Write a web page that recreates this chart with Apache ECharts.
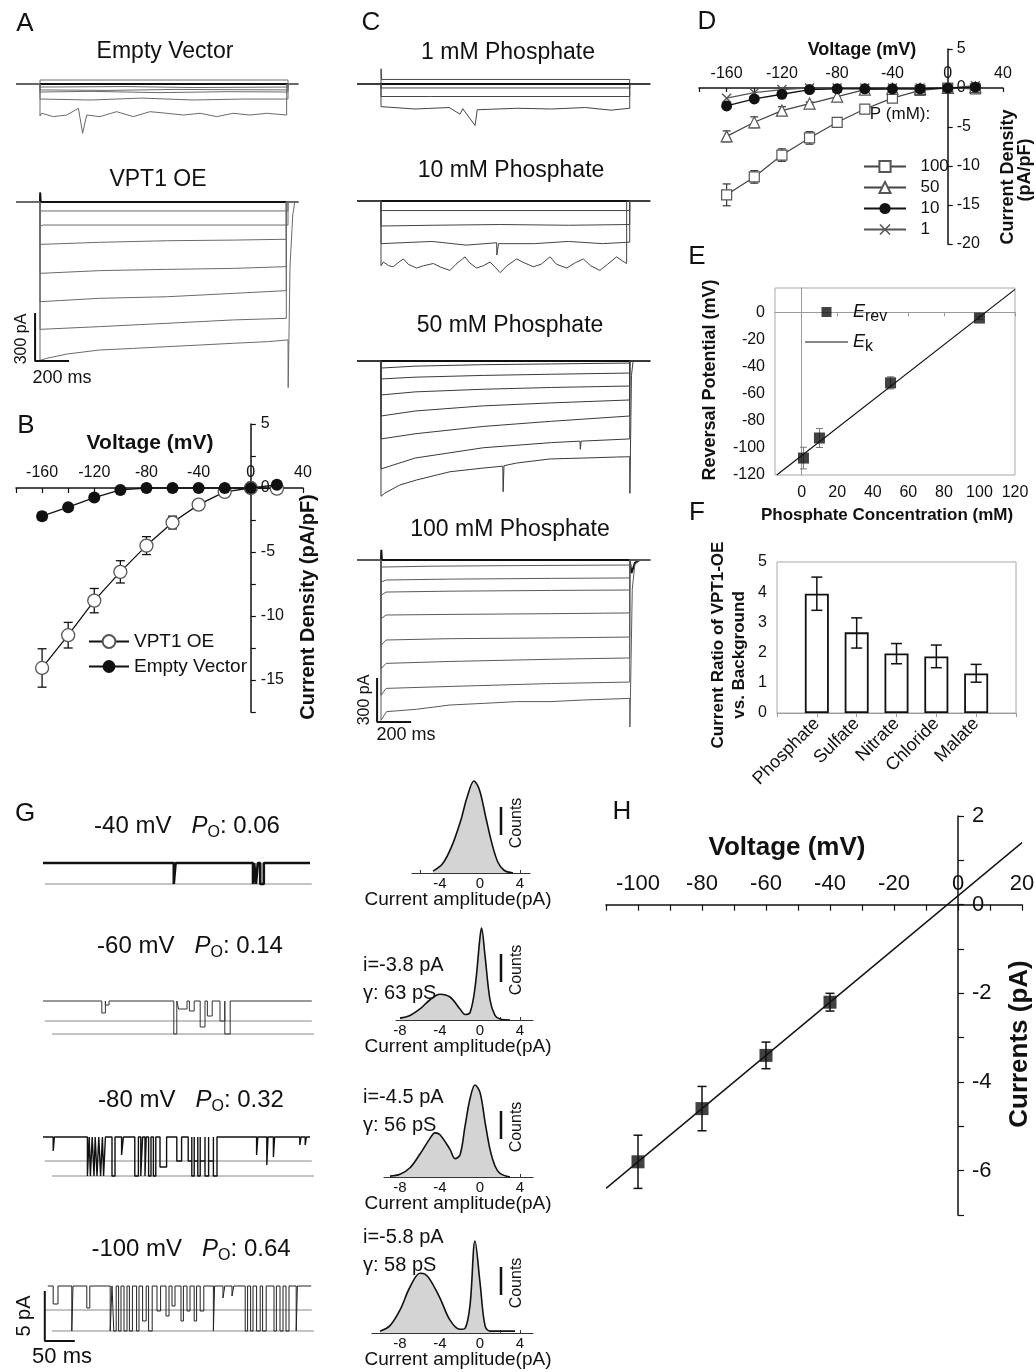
<!DOCTYPE html>
<html>
<head>
<meta charset="utf-8">
<title>VPT1 phosphate currents</title>
<script src="https://cdn.jsdelivr.net/npm/echarts@6/dist/echarts.min.js"></script>
<style>
  body { margin: 0; background: #fff; }
  #main { width: 1036px; height: 1372px; }
</style>
</head>
<body>
<div id="main"></div>
<script>
const FONT = "'Liberation Sans', Arial, Helvetica, sans-serif";

// ---------- A: whole-cell traces, [time ms, current pA] during the pulse ----------
const emptyVectorTraces = [
  [[0, 25], [1460, 25]],
  [[0, 0], [1460, 0]],
  [[0, -19], [500, -16], [900, -22], [1460, -19]],
  [[0, -37], [400, -40], [800, -34], [1460, -37]],
  [[0, -50], [300, -46], [700, -54], [1100, -48], [1460, -50]],
  [[0, -94], [300, -100], [600, -88], [900, -100], [1200, -94], [1460, -94]],
  [[0, -200], [10, -183], [78, -204], [157, -194], [226, -152], [251, -308], [275, -194], [353, -204], [451, -173], [549, -204],
   [648, -173], [746, -183], [844, -194], [942, -183], [1040, -204], [1138, -183], [1236, -194], [1335, -183], [1452, -194]]
];
const vpt1Traces = [
  [[0, 0], [1, 60], [4, 0], [1460, 0]],
  [[0, -56], [1460, -56]],
  [[0, -150], [20, -144], [1460, -144]],
  [[0, -265], [350, -252], [750, -242], [1140, -238], [1450, -233]],
  [[0, -446], [350, -429], [750, -421], [1140, -415], [1450, -404]],
  [[0, -623], [350, -602], [750, -592], [1140, -571], [1450, -554]],
  [[0, -796], [350, -779], [750, -758], [1140, -737], [1450, -727]],
  [[0, -990], [39, -977], [160, -950], [350, -925], [550, -915], [750, -904], [940, -894], [1140, -883], [1340, -873],
   [1460, -862], [1461, -1160], [1472, -400], [1488, -80], [1500, 0]]
];
const aScaleBar = [[-29, -694], [-29, -994], [171, -994]];

// ---------- B: I-V, voltage mV vs current density pA/pF ----------
const ivVoltage = [-160, -140, -120, -100, -80, -60, -40, -20, 0, 20];
const bVpt1 = [-14.06, -11.5, -8.8, -6.55, -4.5, -2.7, -1.3, -0.3, 0, -0.05];
const bVpt1Err = [1.5, 1.0, 0.95, 0.87, 0.7, 0.5, 0.2, 0, 0, 0];
const bEmpty = [-2.2, -1.5, -0.75, -0.15, 0, 0, 0, 0, 0, 0.25];
const bEmptyErr = [0.3, 0.2, 0.15, 0, 0, 0, 0, 0, 0, 0];

// ---------- C: traces at four phosphate concentrations ----------
const c1Traces = [
  [[0, 120], [3, 31], [1460, 31]],
  [[0, 0], [1460, 0]],
  [[0, -27], [1460, -27]],
  [[0, -85], [275, -85], [280, -98], [290, -85], [1460, -85]],
  [[0, -154], [200, -170], [400, -160], [464, -205], [480, -168], [552, -282], [565, -175], [800, -165], [1000, -170],
   [1200, -160], [1350, -178], [1460, -165]]
];
const c2Traces = [
  [[0, 0], [1460, 0]],
  [[0, -65], [1460, -65]],
  [[0, -170], [300, -165], [700, -160], [1100, -165], [1460, -160]],
  [[0, -290], [300, -275], [500, -300], [679, -284], [680, -367], [690, -290], [900, -290], [1100, -275], [1300, -290], [1460, -280]],
  [[0, -440], [14, -415], [45, -440], [72, -447], [100, -420], [131, -394], [160, -430], [209, -456], [250, -440], [307, -425],
   [350, -450], [405, -472], [440, -430], [493, -380], [520, -420], [561, -456], [600, -440], [640, -415], [670, -450], [699, -487],
   [740, -440], [796, -394], [840, -420], [894, -447], [940, -430], [992, -380], [1030, -430], [1090, -456], [1140, -420],
   [1188, -394], [1230, -440], [1285, -472], [1330, -430], [1383, -380], [1420, -410], [1442, -425]]
];
const c3Traces = [
  [[0, 0], [1460, 0]],
  [[0, -48], [200, -35], [600, -25], [1000, -20], [1460, -14]],
  [[0, -122], [200, -110], [600, -98], [1000, -90], [1460, -82]],
  [[0, -231], [200, -210], [600, -192], [1000, -180], [1460, -170]],
  [[0, -374], [200, -340], [600, -305], [1000, -285], [1460, -265]],
  [[0, -530], [200, -495], [600, -445], [1000, -410], [1460, -374]],
  [[0, -734], [200, -660], [600, -590], [1000, -555], [1168, -545], [1170, -600], [1175, -545], [1460, -530]],
  [[0, -920], [23, -898], [111, -843], [209, -809], [405, -753], [600, -728], [715, -715], [717, -889], [722, -712], [796, -694],
   [992, -666], [1188, -660], [1383, -653], [1460, -651], [1461, -900], [1470, -100], [1480, 0]]
];
const c4Traces = [
  [[0, 0], [2, 70], [5, 0], [1460, 0], [1470, -90], [1490, -20], [1520, 0]],
  [[0, -48], [300, -42], [800, -38], [1460, -34]],
  [[0, -150], [30, -136], [400, -130], [1000, -125], [1460, -122]],
  [[0, -240], [30, -218], [400, -212], [1000, -207], [1460, -204]],
  [[0, -400], [30, -374], [400, -370], [1000, -365], [1460, -360]],
  [[0, -580], [30, -544], [400, -535], [1000, -530], [1460, -524]],
  [[0, -740], [30, -703], [400, -690], [1000, -675], [1460, -666]],
  [[0, -920], [30, -873], [400, -860], [1000, -840], [1460, -830]],
  [[0, -1090], [33, -1031], [111, -1024], [209, -1015], [405, -986], [600, -975], [796, -963], [992, -963], [1188, -952],
   [1460, -941], [1461, -1136], [1475, -200], [1490, -30], [1520, 0]]
];
const cScaleBar = [[-23, -802], [-23, -1102], [177, -1102]];

// ---------- D: I-V at four phosphate concentrations ----------
const dP100 = [-13.7, -11.4, -8.6, -6.4, -4.4, -2.7, -1.3, -0.3, 0, -0.1];
const dP100Err = [1.4, 0.8, 0.8, 0.8, 0.5, 0.2, 0, 0, 0, 0];
const dP50 = [-6.2, -4.4, -2.9, -2.0, -1.1, -0.2, -0.1, -0.1, 0, 0.1];
const dP50Err = [0.7, 0.7, 0.5, 0.2, 0, 0, 0, 0, 0, 0];
const dP10 = [-2.3, -1.4, -0.8, -0.2, -0.1, -0.1, -0.1, -0.1, 0, 0.1];
const dP1 = [-1.3, -0.6, -0.2, 0, 0, 0, 0, 0, 0, 0.3];

// ---------- E: reversal potential vs phosphate ----------
const eConc = [1, 10, 50, 100];
const eErev = [-107.5, -92.7, -52, -4.2];
const eErevErr = [8, 7, 4.5, 1];
const eEkLine = [[-14, -120], [120, 17]];

// ---------- F: current ratio by anion ----------
const fAnions = ['Phosphate', 'Sulfate', 'Nitrate', 'Chloride', 'Malate'];
const fRatio = [3.95, 2.67, 1.97, 1.87, 1.31];
const fLow = [3.4, 2.15, 1.63, 1.5, 1.02];
const fHigh = [4.5, 3.15, 2.3, 2.25, 1.61];

// ---------- G: single channel records, events [start ms, end ms, level pA] ----------
const g40Events = [[218, 221, -2.1], [350, 352, -2.1], [355, 358, -2.1], [362, 368, -2.1]];
const g60Events = [[98, 104, -1.2], [104, 110, -0.4], [218, 223, -3.3], [226, 240, -0.8], [244, 252, -1.0], [262, 270, -2.6],
  [274, 282, -1.5], [295, 303, -2.0], [303, 312, -3.3]];
const g80Events = [[17, 19, -1.4], [74, 77, -3.9], [79, 82, -3.9], [85, 87, -3.9], [90, 93, -3.9], [96, 99, -3.9], [101, 104, -3.9],
  [115, 120, -3.9], [131, 134, -1.8], [153, 159, -3.9], [163, 166, -3.9], [170, 172, -3.9], [176, 180, -3.9], [184, 188, -3.9],
  [195, 206, -3.0], [223, 231, -2.4], [242, 248, -2.4], [248, 252, -3.9], [252, 258, -2.4], [258, 262, -3.9], [262, 270, -2.4],
  [270, 276, -3.9], [276, 284, -2.4], [284, 290, -3.9], [356, 358, -1.8], [373, 375, -2.8], [384, 386, -2.0], [428, 430, -0.8],
  [437, 439, -0.8]];
const g100Events = [[17, 25, -1.8], [48, 50, -4.5], [73, 78, -2.2], [112, 115, -4.5], [118, 122, -4.5], [126, 130, -4.5],
  [135, 140, -4.5], [144, 149, -4.5], [156, 160, -4.5], [166, 172, -3.5], [176, 182, -4.5], [190, 196, -2.5], [205, 210, -3.0],
  [215, 220, -2.0], [230, 234, -3.5], [240, 245, -2.5], [252, 256, -3.5], [262, 268, -2.5], [284, 286, -4.5], [300, 303, -1.2],
  [315, 318, -1.0], [337, 341, -4.5], [346, 350, -4.5], [356, 362, -4.5], [366, 372, -4.5], [385, 389, -4.5], [395, 400, -4.5],
  [405, 410, -4.5], [422, 424, -4.5]];
const gOpenLevels = [[-2.1], [-2.0, -3.3], [-2.4, -3.9], [-2.4, -4.5]];
const gScaleBar = [[3, -0.5], [3, -5.5], [53, -5.5]];

// amplitude histograms: fitted curve, [current pA] and [relative counts]
const h40Amp = [-4.7, -3.75, -2.83, -1.9, -1.3, -0.6, -0.06, 0.55, 1.17, 1.78, 2.4, 3.3];
const h40Cnt = [0.02, 0.10, 0.29, 0.58, 0.82, 1.0, 0.905, 0.62, 0.33, 0.12, 0.03, 0];
const h60Amp = [-8, -7, -6, -5, -4, -3, -2, -1.5, -1, -0.5, 0, 0.15, 0.5, 1, 1.5, 2, 3];
const h60Cnt = [0.02, 0.05, 0.12, 0.22, 0.28, 0.25, 0.12, 0.06, 0.08, 0.35, 0.9, 1.0, 0.7, 0.22, 0.05, 0.01, 0];
const h80Amp = [-9, -8, -7, -6, -5, -4.5, -4, -3, -2.5, -2, -1.5, -1, -0.5, 0, 0.5, 1, 1.5, 2, 3];
const h80Cnt = [0.01, 0.03, 0.1, 0.25, 0.42, 0.48, 0.46, 0.3, 0.2, 0.24, 0.55, 0.85, 1.0, 0.92, 0.6, 0.3, 0.12, 0.04, 0];
const h100Amp = [-10, -9, -8, -7, -6, -5.5, -5, -4, -3, -2, -1.5, -1, -0.5, 0, 0.5, 1, 3.5];
const h100Cnt = [0.02, 0.08, 0.25, 0.5, 0.65, 0.64, 0.58, 0.38, 0.14, 0.04, 0.05, 0.3, 1.0, 0.55, 0.08, 0.02, 0.02];

// ---------- H: single channel I-V ----------
const hVoltage = [-100, -80, -60, -40];
const hCurrent = [-5.8, -4.6, -3.4, -2.2];
const hErr = [0.6, 0.5, 0.3, 0.2];
const hFit = [[-110, -6.4], [20, 1.4]];

// ================= building =================
const grids = [], xAxes = [], yAxes = [], series = [], graphics = [], legends = [];
const BLACK = '#111';

function addGrid(rect, xa, ya) {
  const i = grids.length;
  grids.push(Object.assign({ containLabel: false, outerBoundsMode: 'none' }, rect));
  xAxes.push(Object.assign({ gridIndex: i, type: 'value', splitLine: { show: false } }, xa));
  yAxes.push(Object.assign({ gridIndex: i, type: 'value', splitLine: { show: false } }, ya));
  return i;
}
// grid whose data origin sits at pixel (zx, zy)
function traceGrid(zx, zy, xPerPx, yPerPx, xr, yr, xa, ya) {
  return addGrid(
    { left: zx + xr[0] / xPerPx, width: (xr[1] - xr[0]) / xPerPx, top: zy - yr[1] / yPerPx, height: (yr[1] - yr[0]) / yPerPx },
    Object.assign({ min: xr[0], max: xr[1], show: false }, xa || {}),
    Object.assign({ min: yr[0], max: yr[1], show: false }, ya || {}));
}
// I-V style plot: top x axis and right y axis shifted so they cross at (0, 0)
function crossGrid(rect, xr, yr, xa, ya) {
  const axLine = { onZero: false, lineStyle: { color: BLACK, width: 1.5 } };
  return addGrid(rect,
    Object.assign({ min: xr[0], max: xr[1], position: 'top', offset: -rect.height * yr[1] / (yr[1] - yr[0]), axisLine: axLine }, xa),
    Object.assign({ min: yr[0], max: yr[1], position: 'right', offset: -rect.width * xr[1] / (xr[1] - xr[0]), axisLine: axLine }, ya));
}
function lineS(gi, data, color, width, extra) {
  series.push(Object.assign({ type: 'line', xAxisIndex: gi, yAxisIndex: gi, data, symbol: 'none', silent: true,
    lineStyle: { color, width } }, extra || {}));
}
function wrap(pts, x0, x1) {
  const out = [[x0, 0], [0, 0]].concat(pts);
  out.push([pts[pts.length - 1][0], 0], [x1, 0]);
  return out;
}
function addTraces(gi, traces, x0, x1, color, holdIdx) {
  traces.forEach((t, k) => lineS(gi, wrap(t, x0, x1), k === holdIdx ? BLACK : color, k === holdIdx ? 2 : 1));
}
function channelTrace(start, end, events) {
  const pts = [[start, 0]];
  events.forEach(([t0, t1, lev]) => pts.push([t0, 0], [t0, lev], [t1, lev], [t1, 0]));
  pts.push([end, 0]);
  return pts;
}
function errorBars(gi, rows, cap, color, width, z) {
  series.push({
    type: 'custom', xAxisIndex: gi, yAxisIndex: gi, z: z || 1, silent: true, data: rows,
    encode: { x: 0, y: [1, 2] },
    renderItem(params, api) {
      const a = api.coord([api.value(0), api.value(2)]);
      const b = api.coord([api.value(0), api.value(1)]);
      const st = { stroke: color, lineWidth: width };
      const h = cap / 2;
      return { type: 'group', children: [
        { type: 'line', shape: { x1: a[0], y1: a[1], x2: b[0], y2: b[1] }, style: st },
        { type: 'line', shape: { x1: a[0] - h, y1: a[1], x2: a[0] + h, y2: a[1] }, style: st },
        { type: 'line', shape: { x1: b[0] - h, y1: b[1], x2: b[0] + h, y2: b[1] }, style: st }
      ] };
    }
  });
}
const errRows = (xs, ys, es) => xs.map((x, i) => [x, ys[i] - es[i], ys[i] + es[i]]).filter((r, i) => es[i] > 0);
const pairs = (xs, ys) => xs.map((x, i) => [x, ys[i]]);

function txt(x, y, text, size, o) {
  o = o || {};
  graphics.push({ type: 'text', x, y, rotation: o.rot || 0, silent: true, z: 100,
    style: { text, fontSize: size, fontFamily: FONT, fontWeight: o.bold ? 'bold' : 'normal', fontStyle: o.italic ? 'italic' : 'normal',
      fill: BLACK, align: o.align || 'center', verticalAlign: 'middle', rich: o.rich } });
}
const ROT = Math.PI / 2;
const tickBlack = { color: BLACK, width: 1.2 };

// ---- A ----
const gA1 = traceGrid(40, 84, 5.887, 6.25, [-140, 1520], [-350, 90]);
addTraces(gA1, emptyVectorTraces, -140, 1520, '#6a6a6a', 1);
const gA2 = traceGrid(40, 202, 5.887, 6.25, [-140, 1520], [-1200, 100]);
addTraces(gA2, vpt1Traces, -140, 1520, '#6a6a6a', 0);
lineS(gA2, aScaleBar, BLACK, 2);

// ---- B ----
const gB = crossGrid({ left: 16, width: 287, top: 424, height: 288 }, [-180, 40], [-17.5, 5],
  { interval: 20, axisTick: { inside: true, length: 5, lineStyle: tickBlack },
    axisLabel: { customValues: [-160, -120, -80, -40, 0, 40], fontSize: 16, color: BLACK, margin: 7 } },
  { interval: 2.5, axisTick: { length: 5, lineStyle: tickBlack },
    axisLabel: { customValues: [5, 0, -5, -10, -15], fontSize: 16, color: BLACK, margin: 10 } });
errorBars(gB, errRows(ivVoltage, bVpt1, bVpt1Err), 9, BLACK, 1.3);
errorBars(gB, errRows(ivVoltage, bEmpty, bEmptyErr), 9, BLACK, 1.3);
series.push({ type: 'line', name: 'VPT1 OE', xAxisIndex: gB, yAxisIndex: gB, data: pairs(ivVoltage, bVpt1), symbol: 'circle',
  symbolSize: 13, lineStyle: { color: BLACK, width: 1.3 }, itemStyle: { color: '#fff', borderColor: '#555', borderWidth: 1.3 }, z: 3 });
series.push({ type: 'line', name: 'Empty Vector', xAxisIndex: gB, yAxisIndex: gB, data: pairs(ivVoltage, bEmpty), symbol: 'circle',
  symbolSize: 12, lineStyle: { color: BLACK, width: 1.3 }, itemStyle: { color: BLACK }, z: 4 });
legends.push({ data: ['VPT1 OE', 'Empty Vector'], left: 83, top: 627, orient: 'vertical', itemWidth: 40, itemHeight: 16, itemGap: 6,
  selectedMode: false, textStyle: { fontSize: 19, color: BLACK, fontFamily: FONT } });

// ---- C ----
const cX = [-140, 1580];
const gC1 = traceGrid(381, 84, 5.87, 6.8, cX, [-320, 100]);
addTraces(gC1, c1Traces, cX[0], cX[1], '#444', 1);
const gC2 = traceGrid(381, 201, 5.87, 6.8, cX, [-500, 110]);
addTraces(gC2, c2Traces, cX[0], cX[1], '#444', 0);
const gC3 = traceGrid(381, 361, 5.87, 6.8, cX, [-950, 110]);
addTraces(gC3, c3Traces, cX[0], cX[1], '#3a3a3a', 0);
const gC4 = traceGrid(381, 560, 5.87, 6.8, cX, [-1160, 100]);
addTraces(gC4, c4Traces, cX[0], cX[1], '#5a5a5a', 0);
lineS(gC4, cScaleBar, BLACK, 2);

// ---- D ----
const gD = crossGrid({ left: 699, width: 304, top: 49, height: 195 }, [-180, 40], [-20, 5],
  { interval: 20, axisTick: { inside: true, length: 4, lineStyle: tickBlack },
    axisLabel: { customValues: [-160, -120, -80, -40, 0, 40], fontSize: 16, color: BLACK, margin: 6 } },
  { interval: 5, axisTick: { length: 5, lineStyle: tickBlack }, axisLabel: { fontSize: 16, color: BLACK, margin: 9 } });
errorBars(gD, errRows(ivVoltage, dP100, dP100Err), 8, '#333', 1.2);
errorBars(gD, errRows(ivVoltage, dP50, dP50Err), 8, '#333', 1.2);
const openSym = { color: '#fff', borderColor: '#555', borderWidth: 1.2 };
const crossPath = 'path://M0,1L1,0L5,4L9,0L10,1L6,5L10,9L9,10L5,6L1,10L0,9L4,5Z';
series.push({ type: 'line', name: '100', xAxisIndex: gD, yAxisIndex: gD, data: pairs(ivVoltage, dP100), symbol: 'rect', symbolSize: 10,
  lineStyle: { color: '#444', width: 1.2 }, itemStyle: openSym, z: 3 });
series.push({ type: 'line', name: '50', xAxisIndex: gD, yAxisIndex: gD, data: pairs(ivVoltage, dP50), symbol: 'triangle', symbolSize: 11,
  lineStyle: { color: '#444', width: 1.2 }, itemStyle: openSym, z: 3 });
series.push({ type: 'line', name: '1', xAxisIndex: gD, yAxisIndex: gD, data: pairs(ivVoltage, dP1), symbol: crossPath, symbolSize: 10,
  lineStyle: { color: '#555', width: 1.2 }, itemStyle: { color: '#555' }, z: 3 });
series.push({ type: 'line', name: '10', xAxisIndex: gD, yAxisIndex: gD, data: pairs(ivVoltage, dP10), symbol: 'circle', symbolSize: 11,
  lineStyle: { color: BLACK, width: 1.3 }, itemStyle: { color: BLACK }, z: 4 });
legends.push({ data: ['100', '50', '10', '1'], left: 858, top: 153, orient: 'vertical', itemWidth: 42, itemHeight: 14, itemGap: 4,
  selectedMode: false, formatter: n => '  ' + n, textStyle: { fontSize: 17, color: BLACK, fontFamily: FONT } });

// ---- E ----
const grayAx = { lineStyle: { color: '#9a9a9a', width: 1 } };
const gE = addGrid({ left: 775, width: 240, top: 288, height: 187, show: true, borderColor: '#a8a8a8', borderWidth: 1 },
  { min: -15, max: 120, axisLine: grayAx, axisTick: { customValues: [0, 20, 40, 60, 80, 100, 120], length: 4, lineStyle: { color: '#999' } },
    axisLabel: { customValues: [0, 20, 40, 60, 80, 100, 120], fontSize: 16, color: BLACK, margin: 10 } },
  { min: -120, max: 18, axisLine: grayAx, axisTick: { show: false },
    axisLabel: { customValues: [0, -20, -40, -60, -80, -100, -120], fontSize: 16, color: BLACK, margin: 10 } });
errorBars(gE, errRows(eConc, eErev, eErevErr), 7, '#777', 1);
series.push({ type: 'line', name: 'Ek', xAxisIndex: gE, yAxisIndex: gE, data: eEkLine, symbol: 'none',
  lineStyle: { color: BLACK, width: 1.2 }, itemStyle: { color: BLACK }, z: 2 });
series.push({ type: 'scatter', name: 'Erev', xAxisIndex: gE, yAxisIndex: gE, data: pairs(eConc, eErev), symbol: 'rect', symbolSize: 11,
  itemStyle: { color: BLACK }, z: 3 });
legends.push({ data: [{ name: 'Erev', icon: 'path://M0,0H10V10H0Z' }, { name: 'Ek', icon: 'path://M0,0H43V1.2H0Z' }],
  left: 800, top: 298, orient: 'vertical', itemWidth: 43, itemHeight: 10, itemGap: 8,
  selectedMode: false, formatter: n => n === 'Erev' ? '{i|E}{s|rev}' : '{i|E}{s|k}',
  textStyle: { color: BLACK, fontFamily: FONT, rich: { i: { fontSize: 18, fontStyle: 'italic', fontFamily: FONT },
    s: { fontSize: 16, fontFamily: FONT, padding: [10, 0, 0, 0] } } } });

// ---- F ----
const gF = addGrid({ left: 777, width: 239, top: 562, height: 151, show: true, borderColor: '#a8a8a8', borderWidth: 1 },
  { type: 'category', data: [''].concat(fAnions, ['']), boundaryGap: false, axisLine: grayAx,
    axisTick: { length: 4, lineStyle: { color: '#999' } }, axisLabel: { rotate: 45, fontSize: 18, color: BLACK, margin: 8, interval: 0 } },
  { min: 0, max: 5, interval: 1, axisLine: grayAx, axisTick: { show: false }, axisLabel: { fontSize: 16, color: BLACK, margin: 10 } });
series.push({ type: 'bar', xAxisIndex: gF, yAxisIndex: gF, data: [null].concat(fRatio, [null]), barWidth: 24, silent: true,
  itemStyle: { color: '#fff', borderColor: BLACK, borderWidth: 1.8 }, z: 2 });
errorBars(gF, fAnions.map((n, i) => [i + 1, fLow[i], fHigh[i]]), 11, BLACK, 1.5, 3);

// ---- G: channel records ----
const gClosedY = [863, 1001, 1137, 1286];
const gEvents = [g40Events, g60Events, g80Events, g100Events];
const gSpan = [[0, 445], [0, 448], [0, 445], [8, 447]];
const gStyle = [[BLACK, 2.6], ['#333', 1], [BLACK, 1.4], ['#222', 1]];
let gLast = 0;
gClosedY.forEach((zy, k) => {
  const gi = traceGrid(43, zy, 1 / 0.6, 0.1, [0, 450], [-6, 1.5]);
  gOpenLevels[k].forEach((lev, j) => lineS(gi, [[j ? 15 : 3, lev], [j ? 455 : 448, lev]], '#888', 1));
  lineS(gi, channelTrace(gSpan[k][0], gSpan[k][1], gEvents[k]), gStyle[k][0], gStyle[k][1]);
  gLast = gi;
});
lineS(gLast, gScaleBar, BLACK, 2);

// ---- G: amplitude histograms ----
const histBase = [873, 1020, 1177, 1333];
const histRange = [[-6.8, 5], [-8.4, 5.3], [-9.6, 5.3], [-10.8, 5.3]];
const histData = [[h40Amp, h40Cnt], [h60Amp, h60Cnt], [h80Amp, h80Cnt], [h100Amp, h100Cnt]];
histBase.forEach((zy, k) => {
  const wide = k > 0;
  const gi = traceGrid(480, zy, 0.1, 1 / 92, histRange[k], [0, 1.05],
    { show: true, axisLine: { lineStyle: { color: '#333', width: 1.2 } },
      axisTick: { inside: true, length: 3, customValues: wide ? [-8, -6, -4, -2, 0, 2, 4] : [-6, -4, -2, 0, 2, 4], lineStyle: { color: '#333' } },
      axisLabel: { customValues: wide ? [-8, -4, 0, 4] : [-4, 0, 4], fontSize: 15, color: BLACK, margin: 3 } });
  lineS(gi, pairs(histData[k][0], histData[k][1]), BLACK, 1.6, { smooth: 0.35, areaStyle: { color: '#d4d4d4', opacity: 1 } });
});

// ---- H ----
const gH = crossGrid({ left: 606, width: 416, top: 816, height: 399 }, [-110, 20], [-7, 2],
  { interval: 10, axisTick: { inside: true, length: 6, lineStyle: tickBlack },
    axisLabel: { customValues: [-100, -80, -60, -40, -20, 0, 20], fontSize: 22, color: BLACK, margin: 10 } },
  { interval: 1, axisTick: { length: 6, lineStyle: tickBlack },
    axisLabel: { customValues: [2, 0, -2, -4, -6], fontSize: 22, color: BLACK, margin: 14 } });
lineS(gH, hFit, BLACK, 1.4);
errorBars(gH, errRows(hVoltage, hCurrent, hErr), 9, BLACK, 1.5);
series.push({ type: 'scatter', xAxisIndex: gH, yAxisIndex: gH, data: pairs(hVoltage, hCurrent), symbol: 'rect', symbolSize: 13,
  itemStyle: { color: BLACK }, z: 3, silent: true });

// ================= text =================
[['A', 25, 24], ['B', 26, 426], ['C', 371, 23], ['D', 707, 22], ['E', 697, 257], ['F', 697, 513], ['G', 25, 814], ['H', 622, 812]]
  .forEach(([l, x, y]) => txt(x, y, l, 26));
txt(165, 52, 'Empty Vector', 23);
txt(158, 180, 'VPT1 OE', 23);
txt(22, 339, '300 pA', 16, { rot: ROT });
txt(62, 378, '200 ms', 18);
txt(150, 443, 'Voltage (mV)', 21, { bold: true });
txt(308, 607, 'Current Density (pA/pF)', 20, { bold: true, rot: ROT });
txt(508, 53, '1 mM Phosphate', 23);
txt(511, 171, '10 mM Phosphate', 23);
txt(510, 326, '50 mM Phosphate', 23);
txt(510, 530, '100 mM Phosphate', 23);
txt(365, 700, '300 pA', 16, { rot: ROT });
txt(406, 735, '200 ms', 18);
txt(862, 50, 'Voltage (mV)', 18, { bold: true });
txt(1008, 177, 'Current Density', 18, { bold: true, rot: ROT });
txt(1025, 170, '(pA/pF)', 18, { bold: true, rot: ROT });
txt(900, 114, 'P (mM):', 17);
txt(710, 380, 'Reversal Potential (mV)', 18, { bold: true, rot: ROT });
txt(887, 515, 'Phosphate Concentration (mM)', 17, { bold: true });
txt(718, 645, 'Current Ratio of VPT1-OE', 17, { bold: true, rot: ROT });
txt(739, 655, 'vs. Background', 17, { bold: true, rot: ROT });

const gRich = { a: { fontSize: 24, fontFamily: FONT }, p: { fontSize: 24, fontStyle: 'italic', fontFamily: FONT },
  o: { fontSize: 16, fontFamily: FONT, padding: [14, 0, 0, 0] } };
[['-40 mV', '0.06', 826, 187], ['-60 mV', '0.14', 946, 190], ['-80 mV', '0.32', 1100, 191], ['-100 mV', '0.64', 1249, 191]]
  .forEach(([v, p, y, x]) => txt(x, y, `{a|${v}}   {p|P}{o|O}{a|: ${p}}`, 24, { rich: gRich }));
txt(24, 1316, '5 pA', 20, { rot: ROT });
txt(62, 1357, '50 ms', 22);

const histNotes = [null, ['i=-3.8 pA', 'γ: 63 pS', 55], ['i=-4.5 pA', 'γ: 56 pS', 80], ['i=-5.8 pA', 'γ: 58 pS', 96]];
histBase.forEach((b, k) => {
  txt(458, b + 27, 'Current amplitude(pA)', 19);
  txt(517, b - 50, 'Counts', 16, { rot: ROT });
  graphics.push({ type: 'line', silent: true, shape: { x1: 501, y1: b - 66, x2: 501, y2: b - 38 }, style: { stroke: BLACK, lineWidth: 2.5 } });
  if (histNotes[k]) {
    txt(363, b - histNotes[k][2], histNotes[k][0], 20, { align: 'left' });
    txt(363, b - histNotes[k][2] + 28, histNotes[k][1], 20, { align: 'left' });
  }
});
txt(787, 848, 'Voltage (mV)', 26, { bold: true });
txt(1020, 1044, 'Currents (pA)', 26, { bold: true, rot: ROT });

const chart = echarts.init(document.getElementById('main'), null, { renderer: 'canvas' });
chart.setOption({
  animation: false,
  backgroundColor: '#fff',
  textStyle: { fontFamily: FONT },
  tooltip: { show: false },
  grid: grids,
  xAxis: xAxes,
  yAxis: yAxes,
  legend: legends,
  series: series,
  graphic: graphics
});
</script>
</body>
</html>
